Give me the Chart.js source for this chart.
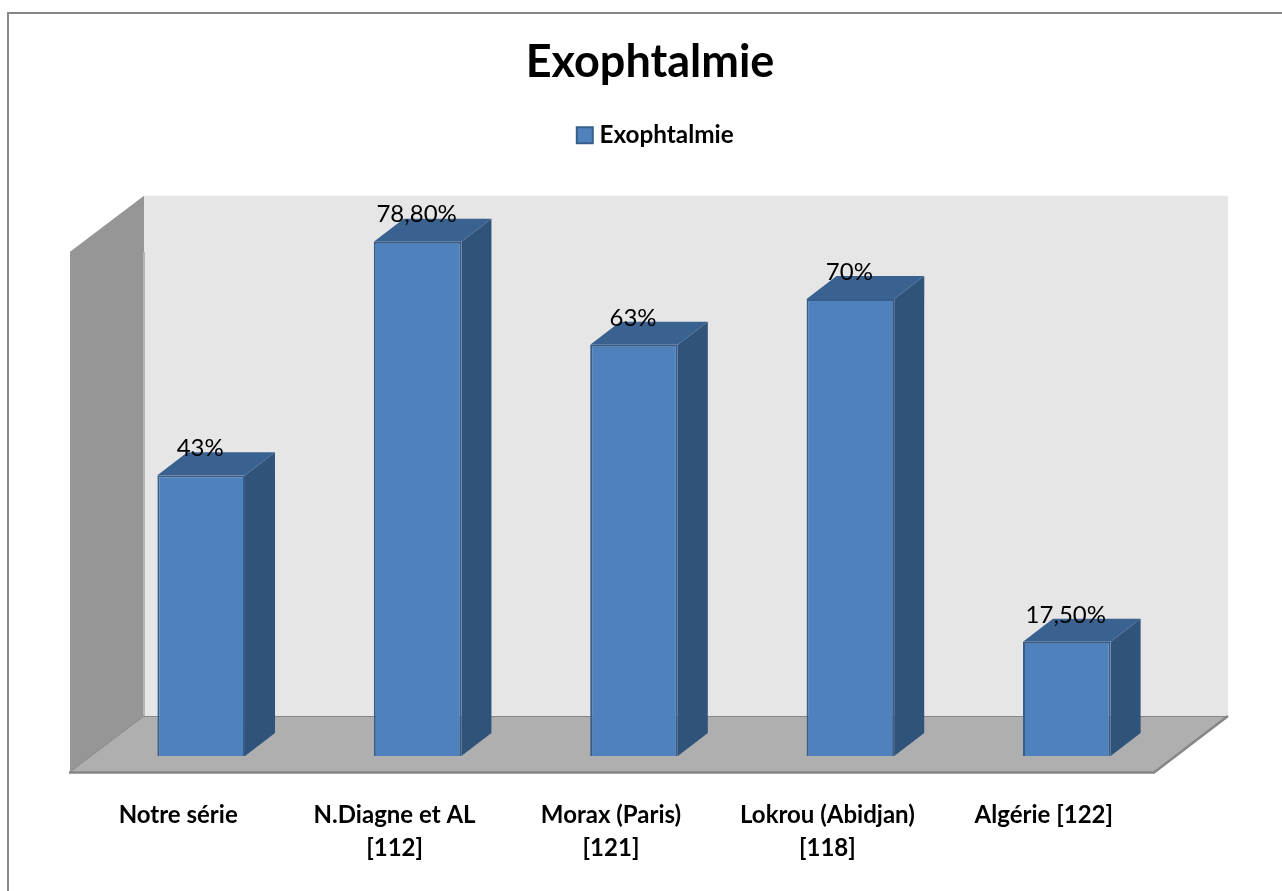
<!DOCTYPE html>
<html lang="fr">
<head>
<meta charset="utf-8">
<title>Exophtalmie</title>
<script src="https://cdn.jsdelivr.net/npm/chart.js@4"></script>
<style>
    html, body { margin: 0; padding: 0; background: #fff; overflow: hidden; }
    #frame { position: absolute; left: 7px; top: 12px; right: 0; bottom: 0; border-left: 2px solid #8a8a8a; border-top: 2px solid #868686; }
    #chart { position: absolute; left: 0; top: 0; }
</style>
</head>
<body>
<div id="frame"></div>
<canvas id="chart" width="1282" height="891"></canvas>
<script>
const categories = ['Notre série', ['N.Diagne et AL', '[112]'], ['Morax (Paris)', '[121]'], ['Lokrou (Abidjan)', '[118]'], 'Algérie [122]'];
const seriesName = 'Exophtalmie';
const values = [43, 78.8, 63, 70, 17.5];
const valueLabels = ['43%', '78,80%', '63%', '70%', '17,50%'];

const FONT = 'Lato, "Open Sans", sans-serif';

function poly(ctx, points, fill) {
    ctx.beginPath();
    points.forEach((p, i) => i ? ctx.lineTo(p[0], p[1]) : ctx.moveTo(p[0], p[1]));
    ctx.closePath();
    ctx.fillStyle = fill;
    ctx.fill();
}

// Parois du graphique 3D : fond, côté gauche et sol
const wallsPlugin = {
    id: 'walls',
    beforeDatasetsDraw(chart) {
        const { ctx, chartArea: a } = chart;
        const fl = a.left - 23, fr = a.right - 21, bl = a.left + 51, br = a.right + 53;
        const top = a.top - 38, frontTop = a.top + 18, backBottom = a.bottom - 40, frontBottom = a.bottom + 16;
        ctx.save();
        poly(ctx, [[bl, top], [br, top], [br, backBottom], [bl, backBottom]], '#e6e6e6');
        poly(ctx, [[fl, frontTop], [bl, top], [bl, backBottom], [fl, frontBottom]], '#969696');
        poly(ctx, [[fl, frontBottom], [bl, backBottom], [br, backBottom], [fr, frontBottom]], '#afafaf');
        ctx.strokeStyle = '#868686';
        ctx.lineWidth = 1;
        ctx.beginPath();
        ctx.moveTo(bl, backBottom + 0.5);
        ctx.lineTo(br, backBottom + 0.5);
        ctx.moveTo(fl, frontBottom);
        ctx.lineTo(bl, backBottom);
        ctx.stroke();
        ctx.lineWidth = 2.5;
        ctx.beginPath();
        ctx.moveTo(fl - 1, frontBottom + 0.5);
        ctx.lineTo(fr, frontBottom + 0.5);
        ctx.lineTo(br, backBottom);
        ctx.stroke();
        ctx.strokeStyle = '#b4b4b4';
        ctx.lineWidth = 2;
        ctx.beginPath();
        ctx.moveTo(bl, frontTop);
        ctx.lineTo(bl, backBottom);
        ctx.stroke();
        ctx.restore();
    }
};

// Faces supérieure et latérale de chaque barre
const depthPlugin = {
    id: 'depth',
    beforeDatasetDraw(chart) {
        const { ctx } = chart;
        const dx = 30, dy = -23;
        ctx.save();
        chart.getDatasetMeta(0).data.forEach(bar => {
            const l = bar.x - bar.width / 2, r = bar.x + bar.width / 2;
            poly(ctx, [[r, bar.y], [r + dx, bar.y + dy], [r + dx, bar.base + dy], [r, bar.base]], '#30537a');
            poly(ctx, [[l, bar.y], [l + dx, bar.y + dy], [r + dx, bar.y + dy], [r, bar.y]], '#3a6291');
        });
        ctx.restore();
    }
};

// Valeurs au-dessus des barres
const valueLabelPlugin = {
    id: 'valueLabel',
    afterDatasetsDraw(chart) {
        const { ctx } = chart;
        ctx.save();
        ctx.font = '24px ' + FONT;
        ctx.fillStyle = '#000';
        ctx.textAlign = 'center';
        ctx.textBaseline = 'middle';
        chart.getDatasetMeta(0).data.forEach((bar, i) => {
            ctx.fillText(valueLabels[i], bar.x - 1, bar.y - 27);
        });
        ctx.restore();
    }
};

// Réserve de la place sous la légende et recentre titre et légende
const legendGapPlugin = {
    id: 'legendGap',
    beforeInit(chart) {
        const fit = chart.legend.fit;
        chart.legend.fit = function () {
            fit.call(this);
            this.height += 76.5;
        };
    },
    afterLayout(chart) {
        chart.titleBlock.left += 16;
        chart.titleBlock.right += 16;
        chart.legend.left += 24;
        chart.legend.right += 24;
    }
};

new Chart(document.getElementById('chart'), {
    type: 'bar',
    data: {
        labels: categories,
        datasets: [{
            label: seriesName,
            data: values,
            backgroundColor: '#4f81bd',
            borderColor: '#385d8a',
            borderWidth: 2,
            categoryPercentage: 1,
            barPercentage: 0.405
        }]
    },
    options: {
        responsive: false,
        animation: false,
        layout: { padding: { left: 93, right: 107, top: 35, bottom: 27 } },
        plugins: {
            title: {
                display: true,
                text: 'Exophtalmie',
                color: '#000',
                font: { family: FONT, size: 45, weight: 'bold' },
                padding: { top: 0, bottom: 28 }
            },
            legend: {
                display: true,
                position: 'top',
                labels: {
                    color: '#000',
                    usePointStyle: true,
                    pointStyle: 'rect',
                    boxWidth: 5,
                    boxHeight: 16,
                    padding: 6,
                    font: { family: FONT, size: 24.3, weight: 'bold' }
                }
            },
            tooltip: { enabled: false }
        },
        scales: {
            x: {
                afterFit(scale) {
                    scale.height = 108;
                },
                grid: { display: false },
                border: { display: false },
                ticks: {
                    color: '#000',
                    padding: 34.5,
                    labelOffset: -23,
                    maxRotation: 0,
                    autoSkip: false,
                    font: { family: FONT, size: 24, weight: 'bold', lineHeight: 1.375 }
                }
            },
            y: {
                display: false,
                min: 0,
                max: 80
            }
        }
    },
    plugins: [wallsPlugin, depthPlugin, valueLabelPlugin, legendGapPlugin]
});
</script>
</body>
</html>
